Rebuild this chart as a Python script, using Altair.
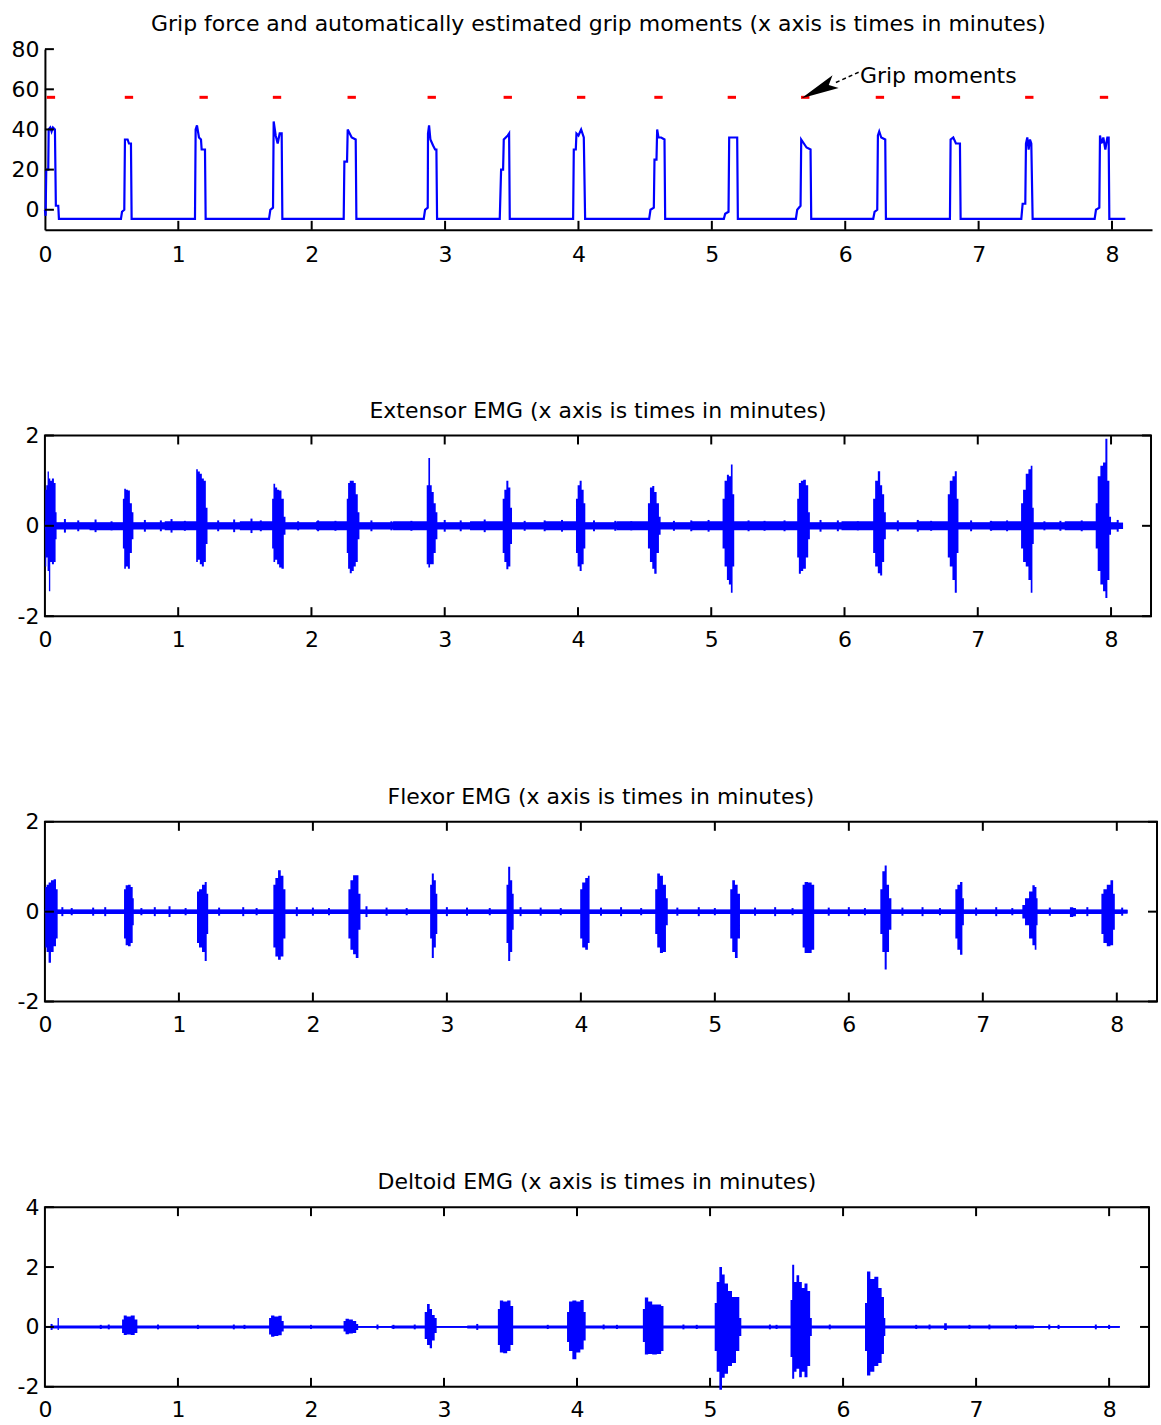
import altair as alt
import pandas as pd

FONT = "DejaVu Sans"
BLUE = "#0000ff"
RED = "#ff0000"
X_MAX = 8.3
X_TICKS = [0, 1, 2, 3, 4, 5, 6, 7, 8]

# ---------------- Panel 1 : grip force ----------------
GRIP_TITLE = "Grip force and automatically estimated grip moments (x axis is times in minutes)"
GRIP_T = [0.0, 0.005, 0.01, 0.025, 0.028, 0.04, 0.05, 0.06, 0.075, 0.082, 0.1, 0.105,
          0.57, 0.578, 0.595, 0.6, 0.62, 0.63, 0.645, 0.65,
          1.125, 1.13, 1.14, 1.155, 1.17, 1.175, 1.2, 1.205,
          1.68, 1.69, 1.71, 1.715, 1.73, 1.745, 1.76, 1.775, 1.78,
          2.24, 2.245, 2.265, 2.27, 2.285, 2.3, 2.33, 2.335,
          2.84, 2.85, 2.87, 2.872, 2.88, 2.89, 2.91, 2.925, 2.935, 2.94,
          3.41, 3.42, 3.435, 3.44, 3.47, 3.48, 3.485,
          3.96, 3.965, 3.98, 3.985, 4.0, 4.02, 4.04, 4.05,
          4.53, 4.54, 4.565, 4.57, 4.585, 4.59, 4.6, 4.62, 4.645, 4.65,
          5.09, 5.1, 5.125, 5.13, 5.19, 5.195,
          5.63, 5.64, 5.665, 5.67, 5.68, 5.71, 5.74, 5.745,
          6.21, 6.22, 6.24, 6.245, 6.255, 6.27, 6.3, 6.305,
          6.785, 6.79, 6.81, 6.83, 6.86, 6.865,
          7.32, 7.33, 7.35, 7.355, 7.365, 7.375, 7.385, 7.395, 7.405,
          7.87, 7.88, 7.905, 7.91, 7.92, 7.935, 7.95, 7.965, 7.975, 7.98, 8.1]
GRIP_F = [0, -3, 20, 20, 40, 41, 39, 41, 40, 2, 2, -4.5,
          -4.5, -1, 0, 35, 35, 33, 33, -4.5,
          -4.5, 40, 42, 36, 35, 30, 30, -4.5,
          -4.5, 0, 1, 44, 37, 33, 38, 38, -4.5,
          -4.5, 24, 24, 40, 38, 36, 35, -4.5,
          -4.5, 0, 1, 38, 42, 35, 32, 30, 30, -4.5,
          -4.5, 20, 20, 35, 37, 38, -4.5,
          -4.5, 30, 30, 38, 37, 40, 36, -4.5,
          -4.5, 0, 1, 25, 25, 40, 36, 36, 35, -4.5,
          -4.5, -2, -1, 36, 36, -4.5,
          -4.5, 0, 2, 35, 34, 31, 30, -4.5,
          -4.5, -1, 0, 37, 39, 36, 35, -4.5,
          -4.5, 35, 36, 33, 33, -4.5,
          -4.5, 3, 3, 33, 36, 30, 35, 33, -4.5,
          -4.5, 0, 1, 37, 33, 36, 30, 36, 36, -4.5, -4.5]
MOMENT_T = [0.045, 0.63, 1.19, 1.74, 2.30, 2.90, 3.47, 4.02, 4.60, 5.15, 5.70, 6.26, 6.83, 7.38, 7.94]
MOMENT_Y = [56] * len(MOMENT_T)
GRIP_Y_DOMAIN = [-10, 80]
GRIP_Y_TICKS = [0, 20, 40, 60, 80]
ANNOT_TEXT = ["Grip moments"]
ANNOT_T = [6.11]
ANNOT_Y = [66.5]
ARROW_T = [6.11, 5.93]
ARROW_Y = [68.8, 63.4]
HEAD_T = [5.80]
HEAD_Y = [59.7]

# ---------------- EMG panels : burst envelopes (t, upper, lower) ----------------
EXT_TITLE = "Extensor EMG (x axis is times in minutes)"
EXT_BURSTS = [
    [(0.0, 0.1, -0.1), (0.005, 0.8, -0.9), (0.015, 0.9, -0.7), (0.025, 1.2, -1.0), (0.035, 1.05, -1.45),
     (0.045, 1.0, -0.8), (0.06, 1.05, -0.85), (0.075, 0.95, -0.8), (0.085, 0.3, -0.3), (0.09, 0.08, -0.08)],
    [(0.58, 0.08, -0.1), (0.59, 0.6, -0.5), (0.6, 0.82, -0.95), (0.615, 0.8, -0.9), (0.63, 0.78, -0.95),
     (0.645, 0.5, -0.6), (0.66, 0.3, -0.3), (0.668, 0.08, -0.08)],
    [(1.13, 0.1, -0.1), (1.14, 1.25, -0.8), (1.155, 1.2, -0.75), (1.17, 1.15, -0.85), (1.185, 1.05, -0.9),
     (1.2, 1.0, -0.8), (1.215, 0.4, -0.4), (1.225, 0.08, -0.08)],
    [(1.70, 0.1, -0.1), (1.71, 0.6, -0.5), (1.72, 0.93, -0.8), (1.735, 0.85, -0.75), (1.75, 0.8, -0.85),
     (1.765, 0.78, -0.92), (1.785, 0.6, -0.95), (1.80, 0.2, -0.2), (1.81, 0.08, -0.08)],
    [(2.26, 0.1, -0.1), (2.27, 0.6, -0.6), (2.28, 0.95, -0.95), (2.295, 1.0, -1.05), (2.31, 1.0, -1.0),
     (2.325, 0.95, -0.9), (2.34, 0.7, -0.8), (2.355, 0.3, -0.3), (2.365, 0.08, -0.08)],
    [(2.86, 0.1, -0.1), (2.87, 0.9, -0.85), (2.885, 1.5, -0.92), (2.895, 0.9, -0.85), (2.91, 0.75, -0.85),
     (2.925, 0.5, -0.6), (2.94, 0.3, -0.3), (2.95, 0.08, -0.08)],
    [(3.43, 0.1, -0.1), (3.44, 0.6, -0.6), (3.455, 0.8, -0.8), (3.47, 1.0, -0.96), (3.485, 0.85, -0.9),
     (3.5, 0.4, -0.4), (3.51, 0.08, -0.08)],
    [(3.98, 0.1, -0.1), (3.99, 0.6, -0.6), (4.005, 0.9, -0.9), (4.02, 1.0, -1.0), (4.035, 0.8, -0.85),
     (4.05, 0.5, -0.5), (4.06, 0.08, -0.08)],
    [(4.52, 0.1, -0.1), (4.53, 0.5, -0.5), (4.55, 0.85, -0.8), (4.565, 0.88, -0.95), (4.58, 0.75, -1.06),
     (4.6, 0.5, -0.6), (4.615, 0.2, -0.2), (4.625, 0.08, -0.08)],
    [(5.08, 0.1, -0.1), (5.09, 0.6, -0.5), (5.11, 1.0, -0.9), (5.125, 1.13, -1.2), (5.14, 1.1, -1.3),
     (5.155, 1.36, -1.48), (5.165, 0.7, -0.9), (5.18, 0.1, -0.1)],
    [(5.64, 0.1, -0.1), (5.65, 0.6, -0.7), (5.665, 0.95, -1.06), (5.68, 1.0, -1.0), (5.7, 1.02, -0.95),
     (5.72, 0.9, -0.7), (5.735, 0.3, -0.3), (5.745, 0.08, -0.08)],
    [(6.21, 0.1, -0.1), (6.22, 0.6, -0.6), (6.24, 1.0, -0.9), (6.26, 1.21, -1.05), (6.275, 0.9, -1.1),
     (6.29, 0.7, -0.8), (6.305, 0.3, -0.3), (6.315, 0.08, -0.08)],
    [(6.77, 0.1, -0.1), (6.78, 0.7, -0.7), (6.8, 1.0, -0.9), (6.82, 1.1, -1.2), (6.835, 1.21, -1.48),
     (6.85, 0.6, -0.6), (6.86, 0.08, -0.08)],
    [(7.32, 0.1, -0.1), (7.33, 0.5, -0.5), (7.35, 0.8, -0.8), (7.37, 1.15, -0.9), (7.39, 1.25, -1.2),
     (7.405, 1.33, -1.48), (7.415, 0.4, -0.4), (7.425, 0.08, -0.08)],
    [(7.88, 0.1, -0.1), (7.89, 0.5, -0.5), (7.91, 1.1, -1.0), (7.93, 1.33, -1.3), (7.95, 1.4, -1.45),
     (7.965, 1.93, -1.6), (7.98, 1.0, -1.2), (7.995, 0.2, -0.2), (8.005, 0.08, -0.08)],
]
EXT_BASE = 0.07
EXT_END = 8.09
EXT_BLIP_T = [0.15, 0.25, 0.38, 0.5, 0.75, 0.87, 0.95, 1.05, 1.3, 1.42, 1.55, 1.62, 1.9, 2.05, 2.18,
              2.45, 2.6, 2.75, 3.0, 3.12, 3.3, 3.6, 3.75, 3.88, 4.12, 4.28, 4.4, 4.72, 4.85, 4.98,
              5.28, 5.4, 5.55, 5.82, 5.95, 6.1, 6.4, 6.55, 6.65, 6.95, 7.1, 7.22, 7.5, 7.62, 7.78, 8.05]
EXT_BLIP_A = [0.15, 0.12, 0.14, 0.1, 0.13, 0.12, 0.15, 0.11, 0.12, 0.14, 0.16, 0.12, 0.1, 0.12, 0.11,
              0.12, 0.1, 0.11, 0.13, 0.12, 0.14, 0.11, 0.12, 0.13, 0.12, 0.11, 0.1, 0.11, 0.12, 0.13,
              0.12, 0.11, 0.12, 0.13, 0.12, 0.1, 0.12, 0.13, 0.11, 0.12, 0.11, 0.12, 0.1, 0.11, 0.12, 0.13]

FLX_TITLE = "Flexor EMG (x axis is times in minutes)"
FLX_BURSTS = [
    [(0.0, 0.05, -0.05), (0.005, 0.55, -0.8), (0.02, 0.6, -0.9), (0.035, 0.65, -1.14), (0.055, 0.7, -0.9),
     (0.075, 0.72, -0.77), (0.09, 0.5, -0.6), (0.1, 0.05, -0.05)],
    [(0.586, 0.05, -0.05), (0.595, 0.5, -0.6), (0.61, 0.59, -0.75), (0.63, 0.6, -0.77), (0.65, 0.55, -0.7),
     (0.66, 0.3, -0.3), (0.666, 0.05, -0.05)],
    [(1.13, 0.05, -0.05), (1.14, 0.45, -0.7), (1.16, 0.5, -0.8), (1.185, 0.6, -0.9), (1.2, 0.66, -1.1),
     (1.215, 0.4, -0.5), (1.222, 0.05, -0.05)],
    [(1.70, 0.05, -0.05), (1.71, 0.6, -0.8), (1.73, 0.75, -1.0), (1.75, 0.92, -1.07), (1.77, 0.8, -1.0),
     (1.79, 0.5, -0.6), (1.80, 0.05, -0.05)],
    [(2.26, 0.05, -0.05), (2.27, 0.5, -0.6), (2.29, 0.7, -0.85), (2.31, 0.81, -0.95), (2.33, 0.81, -1.03),
     (2.35, 0.4, -0.4), (2.36, 0.05, -0.05)],
    [(2.87, 0.05, -0.05), (2.88, 0.6, -0.6), (2.895, 0.85, -1.03), (2.91, 0.7, -0.8), (2.925, 0.4, -0.5),
     (2.932, 0.05, -0.05)],
    [(3.44, 0.05, -0.05), (3.45, 0.6, -0.7), (3.465, 1.0, -1.1), (3.48, 0.7, -0.9), (3.495, 0.4, -0.4),
     (3.502, 0.05, -0.05)],
    [(3.99, 0.05, -0.05), (4.0, 0.5, -0.6), (4.02, 0.65, -0.8), (4.045, 0.75, -0.85), (4.06, 0.8, -0.7),
     (4.07, 0.05, -0.05)],
    [(4.55, 0.05, -0.05), (4.56, 0.5, -0.5), (4.58, 0.85, -0.8), (4.6, 0.8, -0.92), (4.625, 0.6, -0.9),
     (4.645, 0.3, -0.3), (4.652, 0.05, -0.05)],
    [(5.11, 0.05, -0.05), (5.12, 0.5, -0.6), (5.14, 0.7, -0.9), (5.16, 0.6, -1.03), (5.18, 0.4, -0.6),
     (5.195, 0.05, -0.05)],
    [(5.65, 0.05, -0.05), (5.66, 0.6, -0.8), (5.68, 0.66, -0.92), (5.71, 0.65, -0.92), (5.735, 0.6, -0.85),
     (5.748, 0.05, -0.05)],
    [(6.23, 0.05, -0.05), (6.24, 0.5, -0.5), (6.26, 0.9, -0.9), (6.275, 1.03, -1.29), (6.29, 0.6, -0.9),
     (6.31, 0.3, -0.4), (6.325, 0.05, -0.05)],
    [(6.79, 0.05, -0.05), (6.8, 0.5, -0.6), (6.82, 0.6, -0.85), (6.84, 0.66, -0.96), (6.855, 0.3, -0.3),
     (6.862, 0.05, -0.05)],
    [(7.29, 0.05, -0.05), (7.3, 0.15, -0.15), (7.33, 0.3, -0.3), (7.36, 0.45, -0.6), (7.38, 0.59, -0.75),
     (7.395, 0.55, -0.85), (7.405, 0.3, -0.3), (7.412, 0.05, -0.05)],
    [(7.64, 0.05, -0.05), (7.66, 0.1, -0.12), (7.69, 0.08, -0.1), (7.70, 0.05, -0.05)],
    [(7.88, 0.05, -0.05), (7.89, 0.4, -0.5), (7.91, 0.5, -0.7), (7.94, 0.6, -0.77), (7.965, 0.7, -0.75),
     (7.98, 0.4, -0.4), (7.99, 0.05, -0.05)],
]
FLX_BASE = 0.04
FLX_END = 8.08
FLX_BLIP_T = [0.13, 0.2, 0.36, 0.45, 0.72, 0.82, 0.93, 1.05, 1.3, 1.48, 1.58, 1.88, 2.0, 2.12, 2.4,
              2.55, 2.7, 3.0, 3.15, 3.32, 3.55, 3.7, 3.85, 4.15, 4.3, 4.45, 4.72, 4.88, 5.0, 5.3,
              5.45, 5.58, 5.85, 6.0, 6.12, 6.4, 6.55, 6.68, 6.95, 7.1, 7.22, 7.5, 7.78, 8.04]
FLX_BLIP_A = [0.1, 0.08, 0.09, 0.1, 0.08, 0.1, 0.12, 0.08, 0.09, 0.1, 0.08, 0.1, 0.09, 0.08, 0.12,
              0.09, 0.08, 0.1, 0.09, 0.08, 0.1, 0.09, 0.08, 0.09, 0.1, 0.08, 0.09, 0.1, 0.08, 0.09,
              0.1, 0.08, 0.09, 0.1, 0.08, 0.09, 0.1, 0.08, 0.09, 0.1, 0.08, 0.09, 0.1, 0.09]

DEL_TITLE = "Deltoid EMG (x axis is times in minutes)"
DEL_BURSTS = [
    [(0.09, 0.05, -0.05), (0.1, 0.3, -0.1), (0.11, 0.05, -0.05)],
    [(0.575, 0.05, -0.05), (0.585, 0.25, -0.2), (0.6, 0.38, -0.27), (0.63, 0.35, -0.25), (0.66, 0.38, -0.27),
     (0.69, 0.25, -0.2), (0.70, 0.05, -0.05)],
    [(1.68, 0.05, -0.05), (1.69, 0.3, -0.25), (1.71, 0.38, -0.33), (1.74, 0.35, -0.3), (1.77, 0.37, -0.28),
     (1.79, 0.2, -0.15), (1.80, 0.05, -0.05)],
    [(2.24, 0.05, -0.05), (2.25, 0.2, -0.15), (2.27, 0.27, -0.24), (2.3, 0.25, -0.22), (2.33, 0.2, -0.2),
     (2.35, 0.1, -0.1), (2.36, 0.03, -0.03)],
    [(2.85, 0.05, -0.05), (2.86, 0.5, -0.4), (2.885, 0.77, -0.6), (2.9, 0.6, -0.71), (2.92, 0.4, -0.45),
     (2.94, 0.3, -0.2), (2.95, 0.03, -0.03)],
    [(3.40, 0.05, -0.05), (3.41, 0.6, -0.6), (3.43, 0.88, -0.85), (3.46, 0.85, -0.88), (3.49, 0.88, -0.8),
     (3.51, 0.7, -0.6), (3.53, 0.05, -0.05)],
    [(3.92, 0.05, -0.05), (3.93, 0.5, -0.5), (3.95, 0.85, -0.8), (3.98, 0.88, -1.08), (4.01, 0.85, -0.85),
     (4.04, 0.9, -0.75), (4.06, 0.5, -0.45), (4.07, 0.05, -0.05)],
    [(4.49, 0.05, -0.05), (4.5, 0.6, -0.5), (4.52, 0.98, -0.92), (4.55, 0.85, -0.9), (4.58, 0.75, -0.92),
     (4.62, 0.75, -0.9), (4.645, 0.7, -0.8), (4.655, 0.05, -0.05)],
    [(5.03, 0.05, -0.05), (5.04, 0.8, -0.8), (5.06, 1.5, -1.5), (5.08, 2.0, -2.1), (5.1, 1.75, -1.7),
     (5.12, 1.45, -1.56), (5.15, 1.2, -1.3), (5.18, 1.0, -1.2), (5.21, 1.0, -0.8), (5.23, 0.3, -0.3),
     (5.24, 0.05, -0.05)],
    [(5.6, 0.05, -0.05), (5.61, 0.9, -1.0), (5.625, 2.08, -1.73), (5.64, 1.5, -1.5), (5.66, 1.73, -1.4),
     (5.68, 1.5, -1.68), (5.7, 1.3, -1.5), (5.72, 1.45, -1.68), (5.745, 1.2, -1.3), (5.76, 0.3, -0.3),
     (5.77, 0.05, -0.05)],
    [(6.16, 0.05, -0.05), (6.17, 0.8, -0.8), (6.19, 1.85, -1.62), (6.22, 1.6, -1.5), (6.25, 1.68, -1.3),
     (6.28, 1.3, -1.2), (6.3, 1.0, -0.9), (6.315, 0.3, -0.3), (6.32, 0.05, -0.05)],
    [(6.75, 0.05, -0.05), (6.77, 0.12, -0.1), (6.79, 0.05, -0.05)],
]
DEL_BASE = 0.03
DEL_END = 8.08
DEL_BLIP_T = [0.05, 0.42, 0.48, 0.85, 1.15, 1.42, 1.5, 2.0, 2.5, 2.62, 2.78, 3.25, 3.78, 4.2, 4.3,
              4.8, 4.9, 5.45, 5.5, 5.9, 6.55, 6.65, 6.95, 7.1, 7.3, 7.55, 7.62, 7.9, 8.0]
DEL_BLIP_A = [0.1, 0.07, 0.08, 0.08, 0.07, 0.08, 0.07, 0.07, 0.08, 0.07, 0.08, 0.1, 0.07, 0.08, 0.07,
              0.08, 0.07, 0.08, 0.07, 0.08, 0.07, 0.08, 0.07, 0.08, 0.07, 0.08, 0.07, 0.08, 0.07]

TICK_LEN = 9
X_SCALE = alt.Scale(domain=[0, X_MAX], nice=False, zero=False)


def x_axis(domain_line=False, pad=13):
    kw = dict(values=X_TICKS, title=None, grid=False, ticks=False, tickSize=0,
              labelFlush=False, labelFont=FONT, labelFontSize=22,
              labelColor="black", labelPadding=pad, labelOverlap=False)
    if domain_line:
        kw.update(domain=True, domainColor="black", domainWidth=2)
    else:
        kw.update(domain=False)
    return alt.Axis(**kw)


def y_axis(values, domain_line=False):
    kw = dict(values=values, title=None, grid=False, ticks=False, tickSize=0,
              labelFont=FONT, labelFontSize=22, labelColor="black", labelPadding=6,
              labelOverlap=False, labelFlush=False, labelExpr="'' + datum.value")
    if domain_line:
        kw.update(domain=True, domainColor="black", domainWidth=2)
    else:
        kw.update(domain=False)
    return alt.Axis(**kw)


def tick_layers(y_vals, ys, yax, xax, width, height, boxed):
    xdf = pd.DataFrame({"t": X_TICKS[1:]})
    ydf = pd.DataFrame({"v": y_vals})
    layers = [
        alt.Chart(xdf).mark_rule(color="black", strokeWidth=2).encode(
            x=alt.X("t:Q", scale=X_SCALE, axis=xax), y=alt.value(height), y2=alt.value(height - TICK_LEN)),
        alt.Chart(ydf).mark_rule(color="black", strokeWidth=2).encode(
            y=alt.Y("v:Q", scale=ys, axis=yax), x=alt.value(0), x2=alt.value(TICK_LEN)),
    ]
    if boxed:
        layers += [
            alt.Chart(xdf).mark_rule(color="black", strokeWidth=2).encode(
                x=alt.X("t:Q", scale=X_SCALE, axis=xax), y=alt.value(0), y2=alt.value(TICK_LEN)),
            alt.Chart(ydf).mark_rule(color="black", strokeWidth=2).encode(
                y=alt.Y("v:Q", scale=ys, axis=yax), x=alt.value(width), x2=alt.value(width - TICK_LEN)),
        ]
    return layers


def title_params(text):
    return alt.TitleParams(text=text, font=FONT, fontSize=22, fontWeight="normal", color="black",
                           anchor="middle", frame="group", offset=2)


# ---------------- build panel 1 ----------------
W1, H1 = 1109, 181
grip_df = pd.DataFrame({"t": GRIP_T, "f": GRIP_F})
mom_df = pd.DataFrame({"t": MOMENT_T, "f": MOMENT_Y})
ann_df = pd.DataFrame({"t": ANNOT_T, "f": ANNOT_Y, "label": ANNOT_TEXT})
arrow_df = pd.DataFrame({"t": ARROW_T, "f": ARROW_Y})
head_df = pd.DataFrame({"t": HEAD_T, "f": HEAD_Y})

g_ys = alt.Scale(domain=GRIP_Y_DOMAIN, nice=False, zero=False)
g_yax = y_axis(GRIP_Y_TICKS, domain_line=True)
g_xax = x_axis(domain_line=True, pad=15)
gy = alt.Y("f:Q", scale=g_ys, axis=g_yax)
gx = alt.X("t:Q", scale=X_SCALE, axis=g_xax)

grip_line = alt.Chart(grip_df).mark_line(color=BLUE, strokeWidth=2.2).encode(x=gx, y=gy, order="t:Q")
moments = alt.Chart(mom_df).mark_point(shape="stroke", color=RED, strokeWidth=3, size=70,
                                       filled=False, opacity=1).encode(x=gx, y=gy)
arrow_line = alt.Chart(arrow_df).mark_line(color="black", strokeWidth=1.5, strokeDash=[4, 3]).encode(x=gx, y=gy)
arrow_head = alt.Chart(head_df).mark_point(shape="M0,-1L0.37,1L0,0.6L-0.37,1Z", filled=True, color="black",
                                           size=1444, angle=244, opacity=1).encode(x=gx, y=gy)
annot = alt.Chart(ann_df).mark_text(align="left", baseline="middle", font=FONT, fontSize=22,
                                    color="black").encode(x=gx, y=gy, text="label:N")

panel1 = alt.layer(
    grip_line, moments, arrow_line, arrow_head, annot,
    *tick_layers(GRIP_Y_TICKS, g_ys, g_yax, g_xax, W1, H1, boxed=False)
).properties(width=W1, height=H1, title=title_params(GRIP_TITLE),
             view=alt.ViewBackground(stroke="transparent"))


def emg_panel(title, bursts, base, t_end, blip_t, blip_a, y_domain, y_ticks, width, height):
    # one continuous envelope: baseline -> bursts -> baseline
    pts = [(0.0, base, -base)]
    for b in bursts:
        pts.extend(b)
    pts.append((t_end, base, -base))
    env_df = pd.DataFrame(pts, columns=["t", "hi", "lo"]).sort_values("t")
    base_df = pd.DataFrame({"t": [0.0, t_end], "hi": [base, base], "lo": [-base, -base]})
    blip_df = pd.DataFrame({"t": blip_t, "hi": blip_a, "lo": [-a for a in blip_a]})
    ys = alt.Scale(domain=y_domain, nice=False, zero=False)
    yax = y_axis(y_ticks)
    xax = x_axis()
    xe = alt.X("t:Q", scale=X_SCALE, axis=xax)
    base_layer = alt.Chart(base_df).mark_area(color=BLUE, opacity=1).encode(
        x=xe, y=alt.Y("hi:Q", scale=ys, axis=yax, stack=None), y2="lo:Q")
    blips = alt.Chart(blip_df).mark_rule(color=BLUE, strokeWidth=2).encode(
        x=xe, y=alt.Y("hi:Q", scale=ys, axis=yax), y2="lo:Q")
    env_layer = alt.Chart(env_df).mark_area(color=BLUE, opacity=1, interpolate="step").encode(
        x=xe, y=alt.Y("hi:Q", scale=ys, axis=yax, stack=None), y2="lo:Q")
    return alt.layer(
        base_layer, blips, env_layer,
        *tick_layers(y_ticks, ys, yax, xax, width, height, boxed=True)
    ).properties(width=width, height=height, title=title_params(title),
                 view=alt.ViewBackground(stroke="black", strokeWidth=2))


panel2 = emg_panel(EXT_TITLE, EXT_BURSTS, EXT_BASE, EXT_END, EXT_BLIP_T, EXT_BLIP_A,
                   [-2, 2], [-2, 0, 2], 1108, 181)
panel3 = emg_panel(FLX_TITLE, FLX_BURSTS, FLX_BASE, FLX_END, FLX_BLIP_T, FLX_BLIP_A,
                   [-2, 2], [-2, 0, 2], 1114, 180)
panel4 = emg_panel(DEL_TITLE, DEL_BURSTS, DEL_BASE, DEL_END, DEL_BLIP_T, DEL_BLIP_A,
                   [-2, 4], [-2, 0, 2, 4], 1106, 180)

chart = alt.vconcat(panel1, panel2, panel3, panel4, spacing=206, bounds="flush").properties(
    padding={"left": 10, "top": 11, "right": 2, "bottom": 3},
    background="white",
).configure_view(stroke="transparent")

chart.save("out.html", embed_options={"renderer": "svg", "actions": False})
